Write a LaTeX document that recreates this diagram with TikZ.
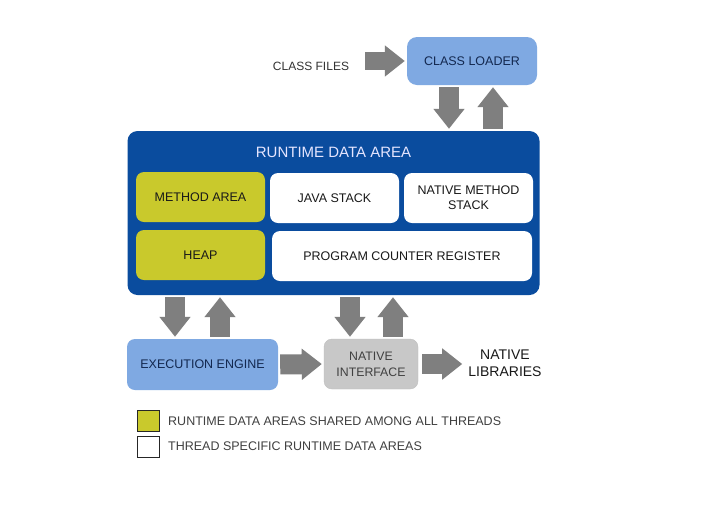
\documentclass[tikz,border=0pt]{standalone}
\usepackage{fontspec}
\setmainfont{Liberation Sans}
\usetikzlibrary{arrows.meta}
\definecolor{areablue}{HTML}{0A4C9E}
\definecolor{lightblue}{HTML}{7FA9E2}
\definecolor{sharedyellow}{HTML}{C9C92C}
\definecolor{arrowgray}{HTML}{7F7F7F}
\definecolor{nativegray}{HTML}{C8C8C8}
\definecolor{navytext}{HTML}{13284F}
\begin{document}
\begin{tikzpicture}[x=1pt,y=-1pt,
    box/.style={rounded corners=8pt, inner sep=0pt, minimum width=129pt, minimum height=50pt,
        font=\fontsize{12.5}{15}\selectfont, text=black!90, align=center},
    sharedbox/.style={box, fill=sharedyellow},
    threadbox/.style={box, fill=white},
    bluebox/.style={box, fill=lightblue, text=navytext},
    blockarrow/.style={draw=arrowgray, line width=20pt, -{Triangle[length=20pt 0 0, width=30pt 0 0]},
        shorten <=2pt, shorten >=2pt},
    legendbox/.style={inner sep=0pt, minimum width=22pt, minimum height=21pt, draw=black!85, line width=1pt},
    legendtext/.style={anchor=west, inner sep=0pt, font=\fontsize{12.5}{15}\selectfont, text=black!75}]
    \useasboundingbox[fill=white] (0,0) rectangle (717,512);

    % class loading
    \node[inner sep=0pt, font=\fontsize{12}{14}\selectfont, text=black!80] (files) at (311,66) {CLASS FILES};
    \node[bluebox, minimum width=130pt, minimum height=48pt, rounded corners=10pt] (loader) at (472,61) {CLASS LOADER};

    % runtime data area
    \node[fill=areablue, rounded corners=10pt, minimum width=412pt, minimum height=164pt] (rda) at (333.5,213) {};
    \node[text=white!90!blue, font=\fontsize{15}{18}\selectfont] (rdatitle) at (333.5,152) {RUNTIME DATA AREA};
    \node[sharedbox] (method) at (200.5,197) {METHOD AREA};
    \node[threadbox] (jstack) at (334.5,198) {JAVA STACK};
    \node[threadbox] (nstack) at (468.5,198) {NATIVE METHOD\\STACK};
    \node[sharedbox] (heap) at (200.5,255) {HEAP};
    \node[threadbox, minimum width=260pt] (pcr) at (402,256) {PROGRAM COUNTER REGISTER};

    % execution
    \node[bluebox, minimum width=151pt, minimum height=51pt] (engine) at (202.5,364.5) {EXECUTION ENGINE};
    \node[box, fill=nativegray, draw=black!25, minimum width=94pt, text=black!75,
        font=\fontsize{12.3}{16}\selectfont] (native) at (371,364) {NATIVE\\INTERFACE};
    \node[inner sep=0pt, align=center, font=\fontsize{14}{17}\selectfont, text=black!90] (libs) at (505,363) {NATIVE\\LIBRARIES};

    % arrows
    \coordinate (ld) at ([xshift=-23pt]loader.south);
    \coordinate (lu) at ([xshift=21pt]loader.south);
    \coordinate (ed) at ([xshift=-27.5pt]engine.north);
    \coordinate (eu) at ([xshift=17.5pt]engine.north);
    \coordinate (nd) at ([xshift=-21pt]native.north);
    \coordinate (nu) at ([xshift=22pt]native.north);
    \draw[blockarrow, line width=18pt, shorten <=16pt] (files.east |- loader) -- (loader.west);
    \draw[blockarrow] (ld) -- (ld |- rda.north);
    \draw[blockarrow] (lu |- rda.north) -- (lu);
    \draw[blockarrow] (ed |- rda.south) -- (ed);
    \draw[blockarrow] (eu) -- (eu |- rda.south);
    \draw[blockarrow] (nd |- rda.south) -- (nd);
    \draw[blockarrow] (nu) -- (nu |- rda.south);
    \draw[blockarrow] (engine.east) -- (native.west);
    \draw[blockarrow, shorten <=4pt, shorten >=6pt] (native.east) -- (native.east -| libs.west);

    % legend
    \node[legendbox, fill=sharedyellow] (sharedkey) at (148.5,421) {};
    \node[legendbox, fill=white] (threadkey) at (148.5,446.5) {};
    \node[legendtext] (sharedtext) at (168,421) {RUNTIME DATA AREAS SHARED AMONG ALL THREADS};
    \node[legendtext] (threadtext) at (168,446.5) {THREAD SPECIFIC RUNTIME DATA AREAS};
\end{tikzpicture}
\end{document}
